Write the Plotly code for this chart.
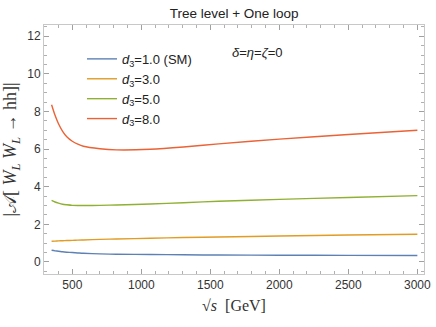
import plotly.graph_objects as go

# sqrt(s) in GeV and |A| for each d3 value
sqrt_s = [350, 375, 400, 430, 460, 500, 540, 580, 700, 820, 1065, 1305, 1560, 2000, 2500, 3000]
amp_d1 = [0.62, 0.59, 0.57, 0.54, 0.52, 0.50, 0.48, 0.46, 0.43, 0.41, 0.40, 0.38, 0.37, 0.36, 0.35, 0.34]
amp_d3 = [1.10, 1.11, 1.12, 1.13, 1.14, 1.15, 1.16, 1.17, 1.20, 1.22, 1.26, 1.30, 1.33, 1.38, 1.43, 1.47]
amp_d5 = [3.27, 3.19, 3.13, 3.07, 3.04, 3.01, 3.00, 3.00, 3.01, 3.03, 3.08, 3.15, 3.23, 3.33, 3.43, 3.53]
amp_d8 = [8.36, 7.80, 7.35, 6.95, 6.66, 6.42, 6.26, 6.15, 6.02, 5.96, 5.99, 6.11, 6.28, 6.53, 6.78, 7.00]

labels = ["1.0 (SM)", "3.0", "5.0", "8.0"]
colors = ["#5E81B5", "#E19C24", "#8FB032", "#EB6235"]

fig = go.Figure()
for amp, lab, col in zip([amp_d1, amp_d3, amp_d5, amp_d8], labels, colors):
    fig.add_trace(go.Scatter(
        x=sqrt_s, y=amp, mode="lines", line_shape="spline",
        line=dict(color=col, width=1.4, smoothing=0.8),
        name="<i>d</i><sub>3</sub>=" + lab,
    ))

axis_style = dict(
    showgrid=False, zeroline=False, showline=True, linecolor="#c8c8c8",
    linewidth=1, mirror="allticks", ticks="inside", ticklen=5, automargin=False,
    tickcolor="#a0a0a0", tickfont=dict(family="Liberation Sans", size=12, color="#333"),
)

fig.update_xaxes(
    range=[295, 3048], tickvals=[500, 1000, 1500, 2000, 2500, 3000],
    minor=dict(dtick=100, tick0=0, ticks="inside", ticklen=3, tickcolor="#b0b0b0"),
    title=dict(text="\u221A<i>s</i>  [GeV]", standoff=8,
               font=dict(family="Liberation Serif", size=16, color="#333")),
    **axis_style,
)
fig.update_yaxes(
    range=[-0.64, 12.6], tickvals=[0, 2, 4, 6, 8, 10, 12],
    minor=dict(dtick=0.5, tick0=0, ticks="inside", ticklen=3, tickcolor="#b0b0b0"),
    title=dict(text="|\U0001D49C[ <i>W</i><sub><i>L</i></sub> <i>W</i><sub><i>L</i></sub> \u2192 hh]|",
               standoff=5, font=dict(family="Liberation Serif", size=18, color="#333")),
    **axis_style,
)

fig.add_annotation(
    x=0.49, y=0.888, xref="paper", yref="paper", xanchor="left", yanchor="middle",
    text="<i>\u03B4</i>=<i>\u03B7</i>=<i>\u03B6</i>=0", showarrow=False,
    font=dict(family="Liberation Sans", size=13, color="#222"),
)

fig.update_layout(
    width=436, height=327,
    margin=dict(l=44, r=12, t=25, b=53),
    plot_bgcolor="white", paper_bgcolor="white",
    title=dict(text="Tree level + One loop", x=0.537, xanchor="center", y=0.96,
               yanchor="middle", font=dict(family="Liberation Sans", size=13.5, color="#222")),
    legend=dict(x=0.1, y=0.924, xanchor="left", yanchor="top", bgcolor="rgba(0,0,0,0)",
                font=dict(family="Liberation Sans", size=13, color="#222"),
                itemwidth=30, tracegroupgap=0),
    showlegend=True,
)

fig.write_html("out.html", config={"displayModeBar": False},
               post_script="document.body.style.margin='0';")
